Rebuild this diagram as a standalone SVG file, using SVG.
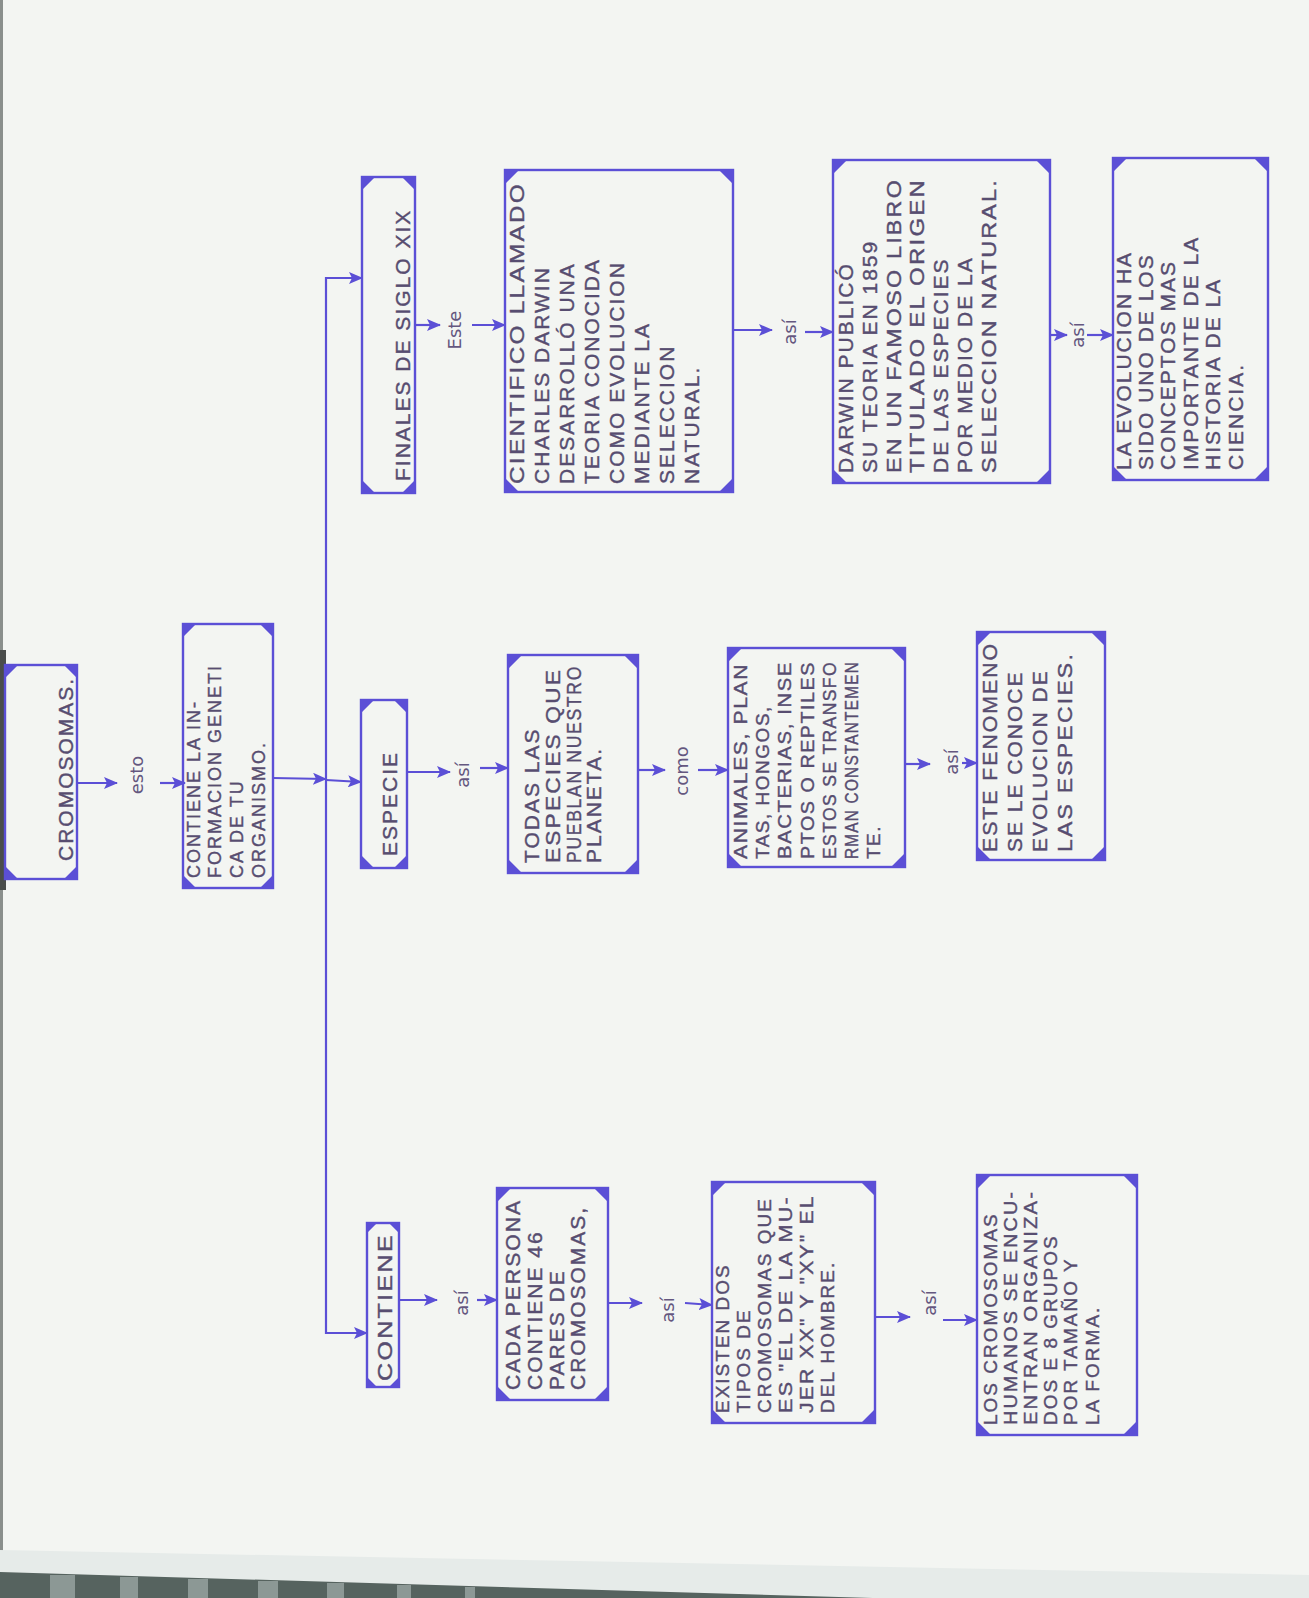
<svg xmlns="http://www.w3.org/2000/svg" width="1309" height="1598" viewBox="0 0 1309 1598">
<style>
.box{fill:none;stroke:#5b4fd6;stroke-width:2.4}
.cor{fill:#5b4fd6}
.ln{fill:none;stroke:#5b4fd6;stroke-width:2.2}
.t{font-family:"Liberation Sans",Arial,sans-serif;font-size:21px;letter-spacing:2px;fill:#574d70;stroke:#574d70;stroke-width:0.4}
.h{font-family:"Liberation Sans",Arial,sans-serif;font-size:21px;letter-spacing:2px;fill:#574d70;stroke:#574d70;stroke-width:0.4}
.lb{font-family:"DejaVu Sans",sans-serif;font-size:18px;fill:#64577f;text-anchor:middle}
</style>
<defs>
<marker id="ah" markerUnits="userSpaceOnUse" markerWidth="14" markerHeight="12" refX="13" refY="6" orient="auto">
<path d="M0,0 L14,6 L0,12 L3,6 z" fill="#5b4fd6"/>
</marker>
</defs>
<rect x="0" y="0" width="1309" height="1598" fill="#f3f5f2"/>
<rect x="0" y="0" width="3" height="1598" fill="#8a8f8c"/>
<rect x="0" y="650" width="6" height="240" fill="#4a4d4b"/>
<polygon points="0,1550 1309,1575 1309,1598 0,1598" fill="#e6ebe9"/>
<polygon points="0,1572 1309,1611 1309,1598 0,1598" fill="#56635f"/>
<g fill="#9aa6a3" opacity="0.8">
<rect x="50" y="1575" width="25" height="30"/><rect x="120" y="1577" width="18" height="30"/><rect x="188" y="1579" width="20" height="30"/><rect x="258" y="1581" width="20" height="30"/><rect x="327" y="1583" width="17" height="30"/><rect x="397" y="1585" width="14" height="30"/><rect x="465" y="1587" width="10" height="30"/>
</g>

<g id="connectors">
<line class="ln" x1="77" y1="783" x2="117" y2="783" marker-end="url(#ah)"/>
<line class="ln" x1="160" y1="783" x2="185" y2="783" marker-end="url(#ah)"/>
<line class="ln" x1="273" y1="778" x2="326" y2="779" marker-end="url(#ah)"/>
<line class="ln" x1="326" y1="780" x2="361" y2="782" marker-end="url(#ah)"/>
<polyline class="ln" points="362,278 326,278 326,1333 367,1333"/>
<line class="ln" x1="326" y1="278" x2="362" y2="278" marker-end="url(#ah)"/>
<line class="ln" x1="326" y1="1333" x2="367" y2="1333" marker-end="url(#ah)"/>
<line class="ln" x1="415" y1="325" x2="440" y2="325" marker-end="url(#ah)"/>
<line class="ln" x1="472" y1="325" x2="505" y2="325" marker-end="url(#ah)"/>
<line class="ln" x1="407" y1="772" x2="450" y2="772" marker-end="url(#ah)"/>
<line class="ln" x1="480" y1="768" x2="508" y2="768" marker-end="url(#ah)"/>
<line class="ln" x1="399" y1="1300" x2="437" y2="1300" marker-end="url(#ah)"/>
<line class="ln" x1="477" y1="1300" x2="497" y2="1300" marker-end="url(#ah)"/>
<line class="ln" x1="638" y1="770" x2="665" y2="770" marker-end="url(#ah)"/>
<line class="ln" x1="698" y1="770" x2="728" y2="770" marker-end="url(#ah)"/>
<line class="ln" x1="608" y1="1303" x2="642" y2="1303" marker-end="url(#ah)"/>
<line class="ln" x1="685" y1="1303" x2="712" y2="1305" marker-end="url(#ah)"/>
<line class="ln" x1="733" y1="330" x2="772" y2="330" marker-end="url(#ah)"/>
<line class="ln" x1="805" y1="332" x2="833" y2="332" marker-end="url(#ah)"/>
<line class="ln" x1="905" y1="764" x2="930" y2="764" marker-end="url(#ah)"/>
<line class="ln" x1="962" y1="763" x2="977" y2="763" marker-end="url(#ah)"/>
<line class="ln" x1="875" y1="1317" x2="910" y2="1317" marker-end="url(#ah)"/>
<line class="ln" x1="943" y1="1320" x2="977" y2="1320" marker-end="url(#ah)"/>
<line class="ln" x1="1050" y1="335" x2="1067" y2="335" marker-end="url(#ah)"/>
<line class="ln" x1="1087" y1="335" x2="1113" y2="335" marker-end="url(#ah)"/>
<text class="lb" transform="translate(143,775) rotate(-90)">esto</text>
<text class="lb" transform="translate(469,775) rotate(-90)">así</text>
<text class="lb" transform="translate(468,1303) rotate(-90)">así</text>
<text class="lb" transform="translate(674,1310) rotate(-90)">así</text>
<text class="lb" transform="translate(936,1303) rotate(-90)">así</text>
<text class="lb" transform="translate(958,762) rotate(-90)">así</text>
<text class="lb" transform="translate(796,332) rotate(-90)">así</text>
<text class="lb" transform="translate(1084,335) rotate(-90)">así</text>
<text class="lb" transform="translate(461,330) rotate(-90)">Este</text>
<text class="lb" transform="translate(688,771) rotate(-90)">como</text>
</g>

<g id="n-cromosomas">
<rect class="box" x="5" y="665" width="72" height="214"/>
<path class="cor" d="M5,665h13l-13,13z M77,665h-13l13,13z M5,879h13l-13,-13z M77,879h-13l13,-13z"/>
<text class="h" transform="translate(5,879) rotate(-90)"><tspan x="18" y="68">CROMOSOMAS.</tspan></text>
</g>

<g id="n-contiene-info">
<rect class="box" x="183" y="624" width="90" height="264"/>
<path class="cor" d="M183,624h13l-13,13z M273,624h-13l13,13z M183,888h13l-13,-13z M273,888h-13l13,-13z"/>
<text class="t" transform="translate(183,888) rotate(-90)" style="font-size:18px">
<tspan x="10" y="17">CONTIENE LA IN-</tspan>
<tspan x="10" y="38">FORMACION GENETI</tspan>
<tspan x="10" y="60">CA  DE TU</tspan>
<tspan x="10" y="82">ORGANISMO.</tspan>
</text>
</g>

<g id="n-finales">
<rect class="box" x="362" y="177" width="53" height="316"/>
<path class="cor" d="M362,177h13l-13,13z M415,177h-13l13,13z M362,493h13l-13,-13z M415,493h-13l13,-13z"/>
<text class="h" transform="translate(362,493) rotate(-90)"><tspan x="12" y="48">FINALES DE SIGLO XIX</tspan></text>
</g>

<g id="n-especie">
<rect class="box" x="361" y="700" width="46" height="168"/>
<path class="cor" d="M361,700h13l-13,13z M407,700h-13l13,13z M361,868h13l-13,-13z M407,868h-13l13,-13z"/>
<text class="h" transform="translate(361,868) rotate(-90)"><tspan x="12" y="36">ESPECIE</tspan></text>
</g>

<g id="n-contiene">
<rect class="box" x="367" y="1223" width="32" height="164"/>
<path class="cor" d="M367,1223h10l-10,10z M399,1223h-10l10,10z M367,1387h10l-10,-10z M399,1387h-10l10,-10z"/>
<text class="h" transform="translate(367,1387) rotate(-90)"><tspan x="6" y="25" textLength="148" lengthAdjust="spacingAndGlyphs">CONTIENE</tspan></text>
</g>

<g id="n-cientifico">
<rect class="box" x="505" y="170" width="228" height="322"/>
<path class="cor" d="M505,170h14l-14,14z M733,170h-14l14,14z M505,492h14l-14,-14z M733,492h-14l14,-14z"/>
<text class="t" transform="translate(505,492) rotate(-90)">
<tspan x="8" y="19" textLength="302" lengthAdjust="spacingAndGlyphs">CIENTIFICO LLAMADO</tspan>
<tspan x="8" y="44">CHARLES DARWIN</tspan>
<tspan x="8" y="69">DESARROLLÓ UNA</tspan>
<tspan x="8" y="94">TEORIA CONOCIDA</tspan>
<tspan x="8" y="119">COMO EVOLUCION</tspan>
<tspan x="8" y="144">MEDIANTE LA</tspan>
<tspan x="8" y="169">SELECCION</tspan>
<tspan x="8" y="194">NATURAL.</tspan>
</text>
</g>

<g id="n-darwin">
<rect class="box" x="833" y="160" width="217" height="323"/>
<path class="cor" d="M833,160h14l-14,14z M1050,160h-14l14,14z M833,483h14l-14,-14z M1050,483h-14l14,-14z"/>
<text class="t" transform="translate(833,483) rotate(-90)">
<tspan x="10" y="20">DARWIN PUBLICÓ</tspan>
<tspan x="10" y="44">SU TEORIA EN 1859</tspan>
<tspan x="10" y="68" textLength="295" lengthAdjust="spacingAndGlyphs">EN UN FAMOSO LIBRO</tspan>
<tspan x="10" y="91" textLength="295" lengthAdjust="spacingAndGlyphs">TITULADO EL ORIGEN</tspan>
<tspan x="10" y="115">DE LAS ESPECIES</tspan>
<tspan x="10" y="139">POR MEDIO DE LA</tspan>
<tspan x="10" y="163" textLength="295" lengthAdjust="spacingAndGlyphs">SELECCION NATURAL.</tspan>
</text>
</g>

<g id="n-evolucion">
<rect class="box" x="1113" y="158" width="155" height="322"/>
<path class="cor" d="M1113,158h14l-14,14z M1268,158h-14l14,14z M1113,480h14l-14,-14z M1268,480h-14l14,-14z"/>
<text class="t" transform="translate(1113,480) rotate(-90)">
<tspan x="10" y="18">LA EVOLUCION HA</tspan>
<tspan x="10" y="40">SIDO UNO DE LOS</tspan>
<tspan x="10" y="62">CONCEPTOS MAS</tspan>
<tspan x="10" y="85">IMPORTANTE DE LA</tspan>
<tspan x="10" y="107">HISTORIA DE LA</tspan>
<tspan x="10" y="130">CIENCIA.</tspan>
</text>
</g>

<g id="n-todas">
<rect class="box" x="508" y="655" width="130" height="218"/>
<path class="cor" d="M508,655h14l-14,14z M638,655h-14l14,14z M508,873h14l-14,-14z M638,873h-14l14,-14z"/>
<text class="t" transform="translate(508,873) rotate(-90)">
<tspan x="10" y="31">TODAS  LAS</tspan>
<tspan x="10" y="52" textLength="195" lengthAdjust="spacingAndGlyphs">ESPECIES  QUE</tspan>
<tspan x="10" y="73" textLength="198" lengthAdjust="spacingAndGlyphs">PUEBLAN NUESTRO</tspan>
<tspan x="10" y="93">PLANETA.</tspan>
</text>
</g>

<g id="n-animales">
<rect class="box" x="728" y="648" width="177" height="219"/>
<path class="cor" d="M728,648h14l-14,14z M905,648h-14l14,14z M728,867h14l-14,-14z M905,867h-14l14,-14z"/>
<text class="t" transform="translate(728,867) rotate(-90)" style="font-size:19px;letter-spacing:1.5px">
<tspan x="8" y="19" textLength="196" lengthAdjust="spacingAndGlyphs">ANIMALES, PLAN</tspan>
<tspan x="8" y="41">TAS, HONGOS,</tspan>
<tspan x="8" y="63" textLength="198" lengthAdjust="spacingAndGlyphs">BACTERIAS, INSE</tspan>
<tspan x="8" y="86" textLength="198" lengthAdjust="spacingAndGlyphs">PTOS O REPTILES</tspan>
<tspan x="8" y="108" textLength="198" lengthAdjust="spacingAndGlyphs">ESTOS SE TRANSFO</tspan>
<tspan x="8" y="130" textLength="198" lengthAdjust="spacingAndGlyphs">RMAN CONSTANTEMEN</tspan>
<tspan x="8" y="152">TE.</tspan>
</text>
</g>

<g id="n-fenomeno">
<rect class="box" x="977" y="632" width="128" height="228"/>
<path class="cor" d="M977,632h14l-14,14z M1105,632h-14l14,14z M977,860h14l-14,-14z M1105,860h-14l14,-14z"/>
<text class="t" transform="translate(977,860) rotate(-90)">
<tspan x="8" y="20" textLength="210" lengthAdjust="spacingAndGlyphs">ESTE FENOMENO</tspan>
<tspan x="8" y="45">SE LE CONOCE</tspan>
<tspan x="8" y="70">EVOLUCION DE</tspan>
<tspan x="8" y="95" textLength="200" lengthAdjust="spacingAndGlyphs">LAS ESPECIES.</tspan>
</text>
</g>

<g id="n-cada">
<rect class="box" x="497" y="1188" width="111" height="212"/>
<path class="cor" d="M497,1188h14l-14,14z M608,1188h-14l14,14z M497,1400h14l-14,-14z M608,1400h-14l14,-14z"/>
<text class="t" transform="translate(497,1400) rotate(-90)">
<tspan x="10" y="23" textLength="190" lengthAdjust="spacingAndGlyphs">CADA PERSONA</tspan>
<tspan x="10" y="45">CONTIENE 46</tspan>
<tspan x="10" y="67">PARES  DE</tspan>
<tspan x="10" y="88">CROMOSOMAS,</tspan>
</text>
</g>

<g id="n-existen">
<rect class="box" x="712" y="1182" width="163" height="241"/>
<path class="cor" d="M712,1182h14l-14,14z M875,1182h-14l14,14z M712,1423h14l-14,-14z M875,1423h-14l14,-14z"/>
<text class="t" transform="translate(712,1423) rotate(-90)" style="font-size:19px">
<tspan x="10" y="17">EXISTEN DOS</tspan>
<tspan x="10" y="38">TIPOS DE</tspan>
<tspan x="10" y="59">CROMOSOMAS QUE</tspan>
<tspan x="10" y="80" textLength="218" lengthAdjust="spacingAndGlyphs">ES "EL DE LA MU-</tspan>
<tspan x="10" y="101" textLength="218" lengthAdjust="spacingAndGlyphs">JER XX" Y "XY" EL</tspan>
<tspan x="10" y="122">DEL HOMBRE.</tspan>
</text>
</g>

<g id="n-los">
<rect class="box" x="977" y="1175" width="160" height="260"/>
<path class="cor" d="M977,1175h14l-14,14z M1137,1175h-14l14,14z M977,1435h14l-14,-14z M1137,1435h-14l14,-14z"/>
<text class="t" transform="translate(977,1435) rotate(-90)" style="font-size:19px">
<tspan x="10" y="20">LOS CROMOSOMAS</tspan>
<tspan x="10" y="40" textLength="235" lengthAdjust="spacingAndGlyphs">HUMANOS SE ENCU-</tspan>
<tspan x="10" y="60" textLength="235" lengthAdjust="spacingAndGlyphs">ENTRAN ORGANIZA-</tspan>
<tspan x="10" y="80">DOS E 8 GRUPOS</tspan>
<tspan x="10" y="100">POR TAMAÑO Y</tspan>
<tspan x="10" y="122">LA  FORMA.</tspan>
</text>
</g>
</svg>
